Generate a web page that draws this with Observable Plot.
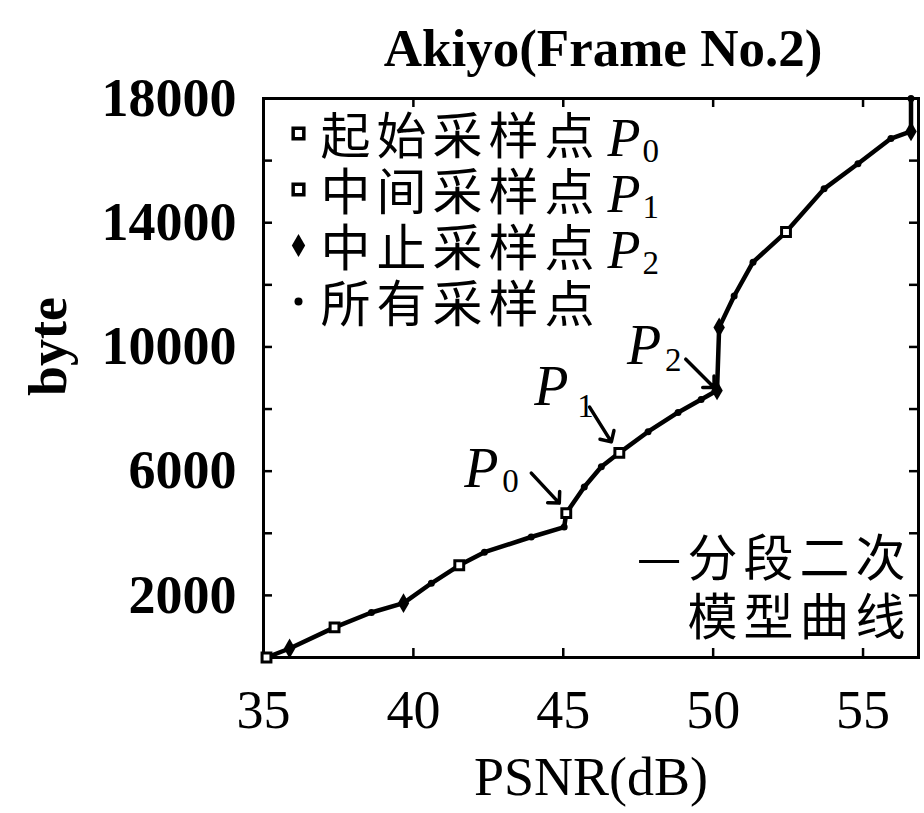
<!DOCTYPE html>
<html><head><meta charset="utf-8">
<script src="https://cdn.jsdelivr.net/npm/d3@7"></script>
<script src="https://cdn.jsdelivr.net/npm/@observablehq/plot@0.6"></script>
<style>
html,body{margin:0;padding:0;background:#fff;}
</style>
</head><body><div id="chart"></div>
<script>
// Piecewise quadratic model curve (PSNR dB -> bytes)
const psnr  = [35.1, 35.87, 37.37, 38.6, 39.67, 40.6, 41.53, 42.37, 43.93, 45.03,
               45.1, 45.7, 46.27, 46.87, 47.83, 48.83, 49.6, 50.13,
               50.2, 50.7, 51.33, 52.43, 53.7, 54.83, 55.93, 56.6, 56.6];
const bytes = [0, 290, 970, 1450, 1750, 2390, 2970, 3390, 3880, 4200,
               4650, 5490, 6140, 6590, 7270, 7890, 8310, 8600,
               10630, 11640, 12730, 13700, 15090, 15900, 16710, 16940, 18000];

// Sample point markers
const startX = [35.1, 37.37, 41.53, 45.1, 52.43];
const startY = [0, 970, 2970, 4650, 13700];
const midX   = [46.87];
const midY   = [6590];
const stopX  = [35.87, 39.67, 50.13, 50.2, 56.6];
const stopY  = [290, 1750, 8600, 10630, 16940];

// Annotated points P0, P1, P2
const annSub = ["0", "1", "2"];
const annX   = [45.1, 46.87, 50.13];
const annY   = [4650, 6590, 8600];

// Legend
const legendText = ["起始采样点", "中间采样点", "中止采样点", "所有采样点"];
const legendSub  = ["0", "1", "2"];
const modelText  = "—分段二次\n模型曲线";

// Axes
const xTicks = [35, 40, 45, 50, 55];
const yTickLabels = [2000, 6000, 10000, 14000, 18000];
const yTicks = [2000, 4000, 6000, 8000, 10000, 12000, 14000, 16000];

const title = "Akiyo(Frame No.2)";
const xLabel = "PSNR(dB)";
const yLabel = "byte";

const curve = psnr.map((x, i) => ({x, y: bytes[i]}));
const pts = (xs, ys) => xs.map((x, i) => ({x, y: ys[i]}));

const SERIF = "'Liberation Serif', 'Times New Roman', serif";
const CJK = "'Noto Sans CJK SC', sans-serif";
const W = 924, H = 813, ML = 263, MR = 6, MT = 98, MB = 156;
const FW = W - ML - MR, FH = H - MT - MB;
const ROW = 56, CJKSIZE = 50;

const marks = [
  // inward ticks
  Plot.tickX(xTicks, {x: d => d, insetTop: FH - 9, stroke: "black", strokeWidth: 2.5}),
  Plot.tickX(xTicks, {x: d => d, insetBottom: FH - 9, stroke: "black", strokeWidth: 2.5}),
  Plot.tickY(yTicks, {y: d => d, insetRight: FW - 9, stroke: "black", strokeWidth: 2.5}),
  Plot.tickY(yTicks, {y: d => d, insetLeft: FW - 9, stroke: "black", strokeWidth: 2.5}),
  Plot.frame({stroke: "black", strokeWidth: 3}),
  Plot.axisX(xTicks, {anchor: "bottom", tickSize: 0, tickPadding: 32, fontSize: 54, fontFamily: SERIF, label: null, tickFormat: d => String(d)}),
  Plot.axisY(yTickLabels, {anchor: "left", tickSize: 0, tickPadding: 27, fontSize: 54, fontWeight: "bold", fontFamily: SERIF, label: null, tickFormat: d => String(d)}),
  // curve
  Plot.line(curve, {x: "x", y: "y", stroke: "black", strokeWidth: 4.5, curve: "linear"}),
  Plot.dot(curve, {x: "x", y: "y", r: 3.5, fill: "black"}),
  Plot.dot(pts(startX, startY), {x: "x", y: "y", symbol: "square", r: 5, fill: "white", stroke: "black", strokeWidth: 3}),
  Plot.dot(pts(midX, midY), {x: "x", y: "y", symbol: "square", r: 5, fill: "white", stroke: "black", strokeWidth: 3}),
  Plot.dot(pts(stopX, stopY), {x: "x", y: "y", symbol: "diamond", r: 6, fill: "black"}),
  // title & labels
  Plot.text([title], {text: d => d, frameAnchor: "top", lineAnchor: "bottom", dx: 12, dy: -33, fontSize: 53, fontWeight: "bold", fontFamily: SERIF}),
  Plot.text([xLabel], {text: d => d, frameAnchor: "bottom", lineAnchor: "middle", dy: 120, fontSize: 54, fontFamily: SERIF}),
  Plot.text([yLabel], {text: d => d, frameAnchor: "left", rotate: -90, dx: -215, dy: 18, fontSize: 54, fontWeight: "bold", fontFamily: SERIF}),
  Plot.text([modelText], {text: d => d, frameAnchor: "bottom-right", textAnchor: "end", lineAnchor: "bottom", lineHeight: 59 / CJKSIZE, dx: -7, dy: -23, fontSize: CJKSIZE, fontFamily: CJK})
];

// Annotation offsets (pixels, relative to the annotated point)
const annLayout = [
  {pdx: -102, pdy: -26, sdx: -64, sdy: -21, tdx: -7, tdy: -10, rot: 137, len: 41},
  {pdx: -85,  pdy: -48, sdx: -42, sdy: -36, tdx: -8, tdy: -11, rot: 148, len: 41},
  {pdx: -90,  pdy: -26, sdx: -52, sdy: -19, tdx: -3, tdy: -3,  rot: 135, len: 40}
];
annSub.forEach((s, i) => {
  const d = [{x: annX[i], y: annY[i]}];
  const L = annLayout[i];
  marks.push(
    Plot.text(d, {x: "x", y: "y", text: () => "P", textAnchor: "start", lineAnchor: "bottom", dx: L.pdx, dy: L.pdy, fontSize: 56, fontStyle: "italic", fontFamily: SERIF}),
    Plot.text(d, {x: "x", y: "y", text: () => s, textAnchor: "start", lineAnchor: "bottom", dx: L.sdx, dy: L.sdy, fontSize: 33, fontFamily: SERIF}),
    Plot.vector(d, {x: "x", y: "y", rotate: L.rot, length: L.len, anchor: "end", dx: L.tdx, dy: L.tdy, stroke: "black", strokeWidth: 3.5})
  );
});

// Legend: symbols
const legendMarks = [
  {symbol: "square", r: 6, fill: "white", stroke: "black", strokeWidth: 3.5},
  {symbol: "square", r: 6, fill: "white", stroke: "black", strokeWidth: 3.5},
  {symbol: "diamond", r: 7, fill: "black", stroke: "none", strokeWidth: 0},
  {symbol: "circle", r: 4, fill: "black", stroke: "none", strokeWidth: 0}
];
legendMarks.forEach((m, i) => {
  marks.push(Plot.dot([0], {frameAnchor: "top-left", dx: 35, dy: 35 + ROW * i, symbol: m.symbol, r: m.r, fill: m.fill, stroke: m.stroke, strokeWidth: m.strokeWidth}));
});
// Legend: text blocks (one multi-line text each)
const nRows = legendText.length;
marks.push(
  Plot.text([legendText.join("\n")], {text: d => d, frameAnchor: "top-left", textAnchor: "start", lineAnchor: "bottom",
    lineHeight: ROW / CJKSIZE, dx: 57, dy: 55 + ROW * (nRows - 1), fontSize: CJKSIZE, fontFamily: CJK}),
  Plot.text([legendSub.map(() => "P").join("\n")], {text: d => d, frameAnchor: "top-left", textAnchor: "start", lineAnchor: "bottom",
    lineHeight: ROW / 54, dx: 344, dy: 57 + ROW * (legendSub.length - 1), fontSize: 54, fontStyle: "italic", fontFamily: SERIF}),
  Plot.text([legendSub.join("\n")], {text: d => d, frameAnchor: "top-left", textAnchor: "start", lineAnchor: "bottom",
    lineHeight: ROW / 33, dx: 379, dy: 63 + ROW * (legendSub.length - 1), fontSize: 33, fontFamily: SERIF})
);

const svg = Plot.plot({
  width: W, height: H,
  marginLeft: ML, marginRight: MR, marginTop: MT, marginBottom: MB,
  style: {background: "white", color: "black", fontFamily: SERIF},
  x: {domain: [35, 56.85]},
  y: {domain: [0, 18000]},
  marks
});

d3.select(svg).selectAll("text").each(function () {
  if (/[\u4e00-\u9fff]/.test(this.textContent)) this.setAttribute("letter-spacing", String(ROW - CJKSIZE));
});

document.getElementById("chart").appendChild(svg);
</script>
</body></html>
